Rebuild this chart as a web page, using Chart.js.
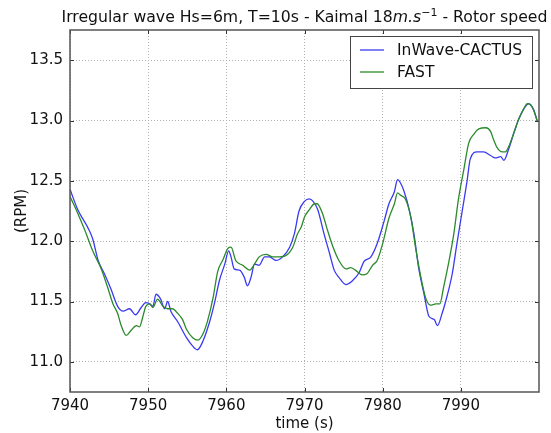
<!DOCTYPE html>
<html>
<head>
<meta charset="utf-8">
<script src="https://cdn.jsdelivr.net/npm/chart.js@4.4.1/dist/chart.umd.min.js"></script>
<style>
html,body{margin:0;padding:0;background:#fff;}
#wrap{width:551px;height:433px;position:relative;}
</style>
</head>
<body>
<div id="wrap"><canvas id="c" width="551" height="433"></canvas></div>
<script>
// ---- data ----
const seriesNames = ["InWave-CACTUS", "FAST"];
const xTicks = [7940, 7950, 7960, 7970, 7980, 7990];
const yTicks = [11.0, 11.5, 12.0, 12.5, 13.0, 13.5];

const cactusTime = [7940.0,7941.0,7942.3,7942.9,7943.6,7944.4,7945.2,7946.1,7946.8,7947.6,7948.4,7949.1,7949.7,7950.2,7950.6,7951.0,7951.6,7952.1,7952.5,7952.9,7953.8,7954.9,7955.7,7956.3,7957.0,7957.9,7958.5,7959.1,7959.8,7960.3,7960.6,7961.0,7961.7,7962.3,7962.7,7963.2,7963.6,7964.2,7964.9,7965.5,7966.4,7967.2,7968.1,7968.7,7969.3,7970.0,7970.6,7971.1,7971.7,7972.5,7973.2,7973.8,7974.4,7975.3,7976.1,7977.0,7977.6,7978.5,7979.3,7980.2,7980.8,7981.5,7981.9,7982.3,7982.7,7983.4,7984.0,7984.6,7985.3,7985.9,7986.6,7987.0,7987.6,7988.3,7988.9,7989.5,7990.2,7990.8,7991.2,7992.1,7992.9,7993.8,7994.4,7995.1,7995.5,7996.1,7996.8,7997.4,7998.0,7998.7,7999.3,7999.8];
const cactusRpm = [12.43,12.26,12.11,12.02,11.84,11.73,11.61,11.46,11.42,11.44,11.39,11.45,11.49,11.48,11.46,11.56,11.52,11.44,11.50,11.42,11.33,11.20,11.13,11.10,11.17,11.34,11.49,11.67,11.81,11.92,11.87,11.77,11.76,11.70,11.63,11.71,11.81,11.80,11.87,11.87,11.84,11.87,11.95,12.06,12.25,12.33,12.35,12.33,12.26,12.06,11.90,11.76,11.70,11.64,11.67,11.74,11.83,11.87,11.98,12.17,12.31,12.41,12.51,12.48,12.42,12.26,12.06,11.78,11.56,11.38,11.35,11.30,11.40,11.56,11.73,11.98,12.26,12.50,12.68,12.74,12.74,12.71,12.69,12.70,12.67,12.76,12.90,13.01,13.09,13.14,13.09,12.99];

const fastTime = [7940.0,7941.0,7941.9,7942.9,7944.0,7944.8,7945.5,7946.1,7946.5,7947.2,7947.8,7948.5,7948.9,7949.3,7949.7,7950.2,7950.6,7951.2,7951.9,7952.5,7953.1,7953.8,7954.4,7954.9,7955.7,7956.4,7957.0,7957.6,7958.3,7958.9,7959.6,7960.2,7960.6,7961.2,7962.1,7963.0,7963.6,7964.2,7965.1,7965.9,7966.8,7967.6,7968.5,7969.1,7969.6,7970.0,7970.6,7971.3,7971.6,7972.3,7972.9,7973.6,7974.4,7975.3,7975.9,7976.5,7977.4,7978.0,7978.7,7979.3,7980.0,7980.8,7981.5,7981.9,7982.3,7982.9,7983.6,7984.2,7984.8,7985.5,7986.1,7986.8,7987.3,7987.8,7988.5,7989.1,7989.7,7990.4,7991.0,7991.7,7992.3,7993.2,7993.8,7994.2,7994.6,7995.3,7995.7,7996.1,7996.8,7997.4,7998.0,7998.5,7998.9,7999.3,7999.8];
const fastRpm = [12.37,12.23,12.09,11.92,11.77,11.62,11.48,11.40,11.31,11.22,11.26,11.30,11.29,11.37,11.46,11.48,11.45,11.52,11.46,11.44,11.44,11.40,11.35,11.27,11.20,11.18,11.23,11.34,11.53,11.75,11.85,11.94,11.95,11.84,11.80,11.76,11.81,11.87,11.89,11.87,11.87,11.88,11.95,12.06,12.12,12.20,12.26,12.31,12.31,12.23,12.10,11.96,11.84,11.77,11.78,11.76,11.72,11.73,11.80,11.84,11.98,12.19,12.31,12.40,12.38,12.35,12.20,11.95,11.73,11.53,11.47,11.48,11.48,11.62,11.84,12.06,12.35,12.60,12.81,12.89,12.93,12.94,12.91,12.84,12.78,12.74,12.74,12.78,12.90,13.01,13.09,13.14,13.13,13.09,12.99];

const toPoints = (ts, vs) => ts.map((t, i) => ({x: t, y: vs[i]}));

const FONT = "'DejaVu Sans', sans-serif";
const BLUE = '#3a3af2';
const GREEN = '#2b8a2b';

const decor = {
  id: 'decor',
  afterDraw(chart) {
    const ctx = chart.ctx, a = chart.chartArea;
    const xs = chart.scales.x, ys = chart.scales.y;
    ctx.save();
    // inward ticks on all four sides
    ctx.strokeStyle = '#333';
    ctx.lineWidth = 1;
    ctx.beginPath();
    xTicks.forEach(t => {
      const px = Math.round(xs.getPixelForValue(t)) + 0.5;
      ctx.moveTo(px, a.bottom); ctx.lineTo(px, a.bottom - 4);
      ctx.moveTo(px, a.top); ctx.lineTo(px, a.top + 4);
    });
    yTicks.forEach(v => {
      const py = Math.round(ys.getPixelForValue(v)) + 0.5;
      ctx.moveTo(a.left, py); ctx.lineTo(a.left + 4, py);
      ctx.moveTo(a.right, py); ctx.lineTo(a.right - 4, py);
    });
    ctx.stroke();
    // frame
    ctx.strokeStyle = '#555';
    ctx.lineWidth = 1.5;
    ctx.strokeRect(a.left, a.top, a.right - a.left, a.bottom - a.top);

    // title with math part
    const parts = [
      {t: 'Irregular wave Hs=6m, T=10s - Kaimal 18', f: '15.7px ' + FONT, dy: 0},
      {t: 'm.s', f: 'italic 15.7px ' + FONT, dy: 0},
      {t: '\u22121', f: '11px ' + FONT, dy: -6},
      {t: ' - Rotor speed', f: '15.7px ' + FONT, dy: 0}
    ];
    let total = 0;
    parts.forEach(p => { ctx.font = p.f; p.w = ctx.measureText(p.t).width; total += p.w; });
    let x = (a.left + a.right) / 2 - total / 2;
    ctx.fillStyle = '#111';
    ctx.textBaseline = 'alphabetic';
    ctx.textAlign = 'left';
    parts.forEach(p => { ctx.font = p.f; ctx.fillText(p.t, x, 22 + p.dy); x += p.w; });

    // axis titles
    ctx.font = '15px ' + FONT;
    ctx.textAlign = 'center';
    ctx.textBaseline = 'middle';
    ctx.fillText('time (s)', (a.left + a.right) / 2, 424);
    ctx.save();
    ctx.translate(22, (a.top + a.bottom) / 2);
    ctx.rotate(-Math.PI / 2);
    ctx.fillText('(RPM)', 0, 0);
    ctx.restore();

    // legend
    const lx = 350, ly = 36, lw = 182, lh = 52;
    ctx.fillStyle = '#fff';
    ctx.fillRect(lx, ly, lw, lh);
    ctx.strokeStyle = '#444';
    ctx.lineWidth = 1;
    ctx.strokeRect(lx + 0.5, ly + 0.5, lw, lh);
    const cols = [BLUE, GREEN];
    seriesNames.forEach((name, i) => {
      const yy = ly + 14 + i * 22;
      ctx.strokeStyle = cols[i];
      ctx.lineWidth = 1.3;
      ctx.beginPath(); ctx.moveTo(lx + 10, yy); ctx.lineTo(lx + 34, yy); ctx.stroke();
      ctx.fillStyle = '#111';
      ctx.font = '15.5px ' + FONT;
      ctx.textAlign = 'left';
      ctx.textBaseline = 'middle';
      ctx.fillText(name, lx + 47, yy + 1);
    });
    ctx.restore();
  }
};

new Chart(document.getElementById('c'), {
  type: 'line',
  data: {
    datasets: [
      {label: seriesNames[0], data: toPoints(cactusTime, cactusRpm), borderColor: BLUE, borderWidth: 1.3, pointRadius: 0, fill: false, cubicInterpolationMode: 'monotone', order: 1},
      {label: seriesNames[1], data: toPoints(fastTime, fastRpm), borderColor: GREEN, borderWidth: 1.3, pointRadius: 0, fill: false, cubicInterpolationMode: 'monotone', order: 0}
    ]
  },
  options: {
    responsive: false,
    animation: false,
    devicePixelRatio: 1,
    layout: {padding: {left: 0, right: 12, top: 30, bottom: 0}},
    plugins: {legend: {display: false}, title: {display: false}, tooltip: {enabled: false}},
    scales: {
      x: {
        type: 'linear', min: 7940, max: 8000,
        afterBuildTicks: s => { s.ticks = xTicks.map(v => ({value: v})); },
        afterFit: s => { s.height = 41; },
        grid: {color: '#b0b0b0', lineWidth: 1, drawTicks: false},
        border: {display: false, dash: [1, 2]},
        ticks: {padding: 5, color: '#111', font: {family: FONT, size: 15}, maxRotation: 0, callback: v => String(v)}
      },
      y: {
        type: 'linear', min: 10.75, max: 13.75,
        afterBuildTicks: s => { s.ticks = yTicks.map(v => ({value: v})); },
        afterFit: s => { s.width = 70; },
        grid: {color: '#b0b0b0', lineWidth: 1, drawTicks: false},
        border: {display: false, dash: [1, 2]},
        ticks: {padding: 7, color: '#111', font: {family: FONT, size: 15}, callback: v => v.toFixed(1)}
      }
    }
  },
  plugins: [decor]
});
</script>
</body>
</html>
